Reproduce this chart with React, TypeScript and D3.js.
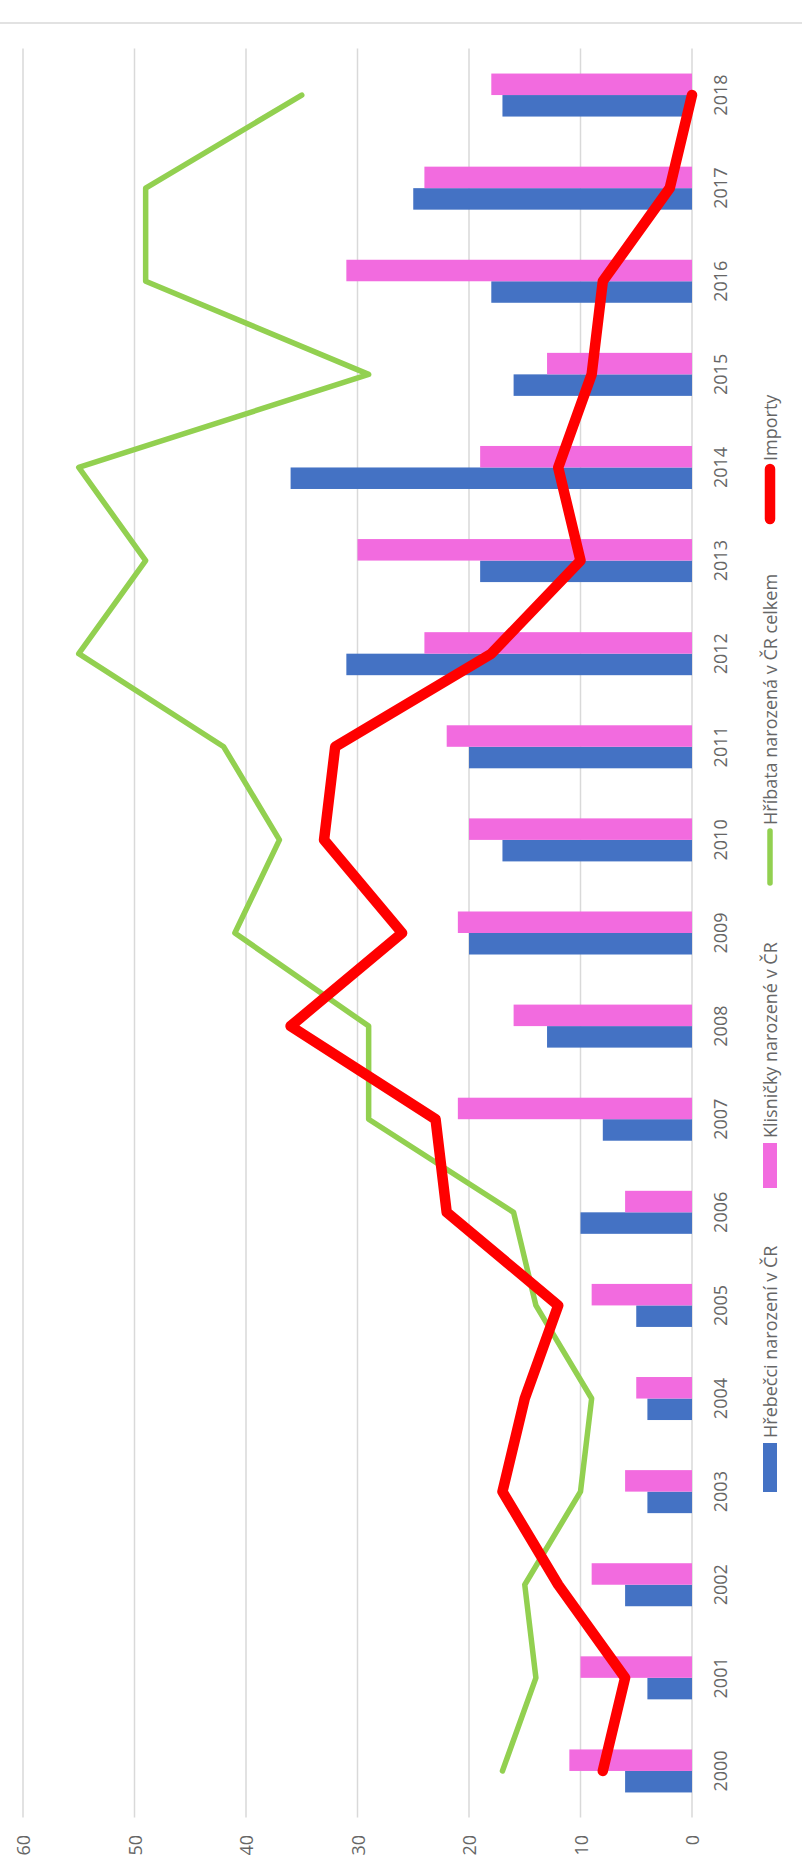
import React from 'react';
import * as d3 from 'd3';

const years = ['2000','2001','2002','2003','2004','2005','2006','2007','2008','2009','2010','2011','2012','2013','2014','2015','2016','2017','2018'];
const hrebecci = [6,4,6,4,4,5,10,8,13,20,17,20,31,19,36,16,18,25,17];
const klisnicky = [11,10,9,6,5,9,6,21,16,21,20,22,24,30,19,13,31,24,18];
const hribata = [17,14,15,10,9,14,16,29,29,41,37,42,55,49,55,29,49,49,35];
const importy = [8,6,12,17,15,12,22,23,36,26,33,32,18,10,12,9,8,2,0];
const valueTicks = [0,10,20,30,40,50,60];

const seriesNames = {
  h: 'Hřebečci narození v ČR',
  k: 'Klisničky narozené v ČR',
  g: 'Hříbata narozená v ČR celkem',
  r: 'Importy',
};

const W = 802;
const H = 1871;
const FONT = "'Open Sans', 'Noto Sans', sans-serif";
const TXT = '#666666';
const GRID = '#d9d9d9';
const BLUE = '#4472C4';
const PINK = '#F26BDF';
const GREEN = '#92D050';
const RED = '#FF0000';

export default function App() {
  // unrotated frame: u along categories (screen bottom->top), v = screen x
  const uScale = d3.scaleBand<string>().domain(years).range([53.5, 1822.5]).paddingInner(0).paddingOuter(0);
  const vScale = d3.scaleLinear().domain([0, 60]).range([692, 23]);
  const bw = uScale.bandwidth();
  const barW = bw * 0.231;
  const sub = d3.scaleBand<string>().domain(['h', 'k']).range([bw / 2 - barW, bw / 2 + barW]);
  const center = (y: string) => (uScale(y) as number) + bw / 2;

  const line = d3.line<number>()
    .x((_, i) => center(years[i]))
    .y((d) => vScale(d));

  const legendItems = [
    { key: 'h', type: 'rect', color: BLUE, m0: 379, m1: 428, t: 433 },
    { key: 'k', type: 'rect', color: PINK, m0: 683, m1: 728, t: 733 },
    { key: 'g', type: 'line', color: GREEN, m0: 988, m1: 1040, t: 1046 },
    { key: 'r', type: 'line', color: RED, m0: 1352, m1: 1402, t: 1410 },
  ];

  return (
    <svg width={W} height={H} style={{ position: 'absolute', left: 0, top: 0, background: '#fff' }} fontFamily={FONT}>
      <rect x={0} y={0} width={W} height={H} fill="#fff" />
      <line x1={0} x2={W} y1={23} y2={23} stroke={GRID} strokeWidth={1.5} />
      <g transform={`translate(0,${H}) rotate(-90)`}>
        {valueTicks.map((t) => (
          <line key={'g' + t} x1={53.5} x2={1822.5} y1={vScale(t)} y2={vScale(t)} stroke={GRID} strokeWidth={1.5} />
        ))}
        {valueTicks.map((t) => (
          <text key={'t' + t} x={36} y={vScale(t)} textAnchor="end" dominantBaseline="central" fontSize={18} fill={TXT}>
            {t}
          </text>
        ))}
        {years.map((y, i) => (
          <g key={'b' + y} transform={`translate(${uScale(y)},0)`}>
            <rect x={sub('h')} width={sub.bandwidth()} y={vScale(hrebecci[i])} height={vScale(0) - vScale(hrebecci[i])} fill={BLUE} />
            <rect x={sub('k')} width={sub.bandwidth()} y={vScale(klisnicky[i])} height={vScale(0) - vScale(klisnicky[i])} fill={PINK} />
          </g>
        ))}
        <path d={line(hribata) || ''} fill="none" stroke={GREEN} strokeWidth={5.5} strokeLinecap="round" strokeLinejoin="round" />
        <path d={line(importy) || ''} fill="none" stroke={RED} strokeWidth={10.5} strokeLinecap="round" strokeLinejoin="round" />
        {years.map((y) => (
          <text key={'y' + y} x={center(y)} y={720} textAnchor="middle" dominantBaseline="central" fontSize={18} fill={TXT}>
            {y}
          </text>
        ))}
        {legendItems.map((it) => (
          <g key={'l' + it.key}>
            {it.type === 'rect' ? (
              <rect x={it.m0} width={it.m1 - it.m0} y={763} height={14} fill={it.color} />
            ) : (
              <line x1={it.m0} x2={it.m1} y1={770} y2={770} stroke={it.color} strokeWidth={it.key === 'r' ? 10.5 : 5.5} strokeLinecap="round" />
            )}
            <text x={it.t} y={770} dominantBaseline="central" fontSize={18} fill={TXT}>
              {seriesNames[it.key as keyof typeof seriesNames]}
            </text>
          </g>
        ))}
      </g>
    </svg>
  );
}
